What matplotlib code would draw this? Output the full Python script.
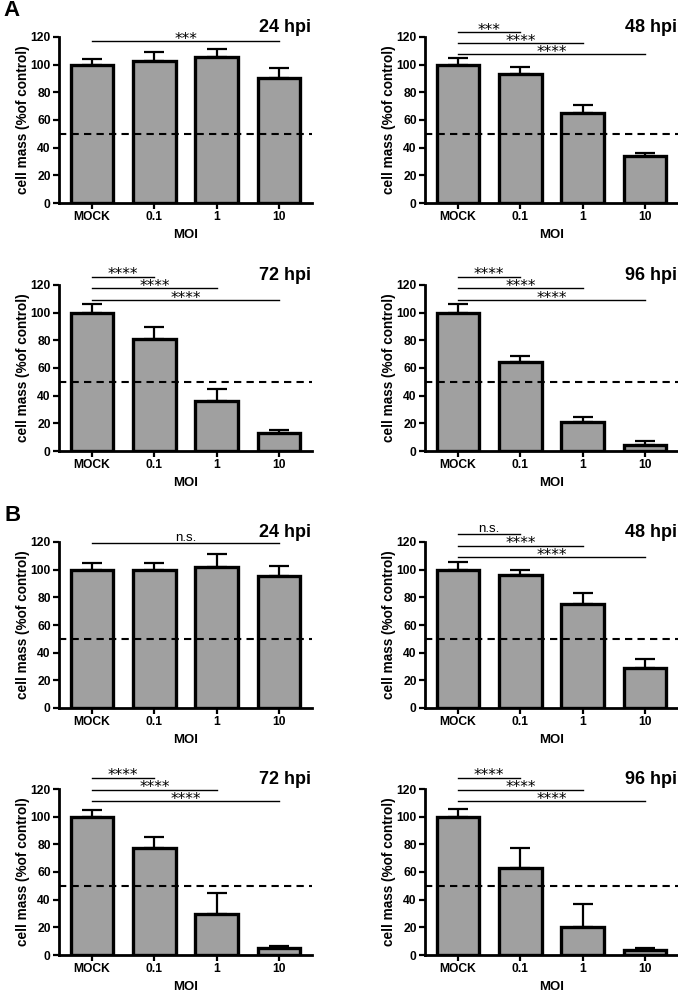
import numpy as np
import matplotlib
matplotlib.use('Agg')
import matplotlib.pyplot as plt

plt.rcParams['font.family'] = ['Liberation Sans', 'DejaVu Sans']
plt.rcParams['font.weight'] = 'bold'

# categories
moi = ['MOCK', '0.1', '1', '10']
hours = ['24 hpi', '48 hpi', '72 hpi', '96 hpi']

# panel A: means and upper error
A_mean = [[100, 103, 105.5, 90],
          [100, 93.6, 65.1, 34.1],
          [100, 80.8, 36.5, 13.3],
          [100, 64.1, 20.8, 4.6]]
A_err = [[3.9, 6.1, 5.8, 7.7],
         [4.6, 4.9, 5.5, 1.9],
         [6.2, 8.7, 8.5, 2.2],
         [6.2, 4.4, 3.9, 2.4]]

# panel B
B_mean = [[100, 99.6, 101.6, 95.3],
          [100, 95.8, 74.9, 28.6],
          [100, 77.1, 29.3, 5.3],
          [100, 63, 20.1, 3.9]]
B_err = [[4.8, 4.9, 9.4, 7.7],
         [5.6, 4.3, 8.0, 6.8],
         [4.8, 8.0, 15.8, 1.0],
         [5.8, 14.3, 16.5, 1.2]]

# significance: (target index, label, y level) -- always vs MOCK
A_sig = [[(3, '***', 116.9)],
         [(1, '***', 123.6), (2, '****', 115.6), (3, '****', 107.4)],
         [(1, '****', 126), (2, '****', 117.6), (3, '****', 109.1)],
         [(1, '****', 126), (2, '****', 117.6), (3, '****', 109.1)]]
B_sig = [[(3, 'n.s.', 119.5)],
         [(1, 'n.s.', 126), (2, '****', 117.3), (3, '****', 109)],
         [(1, '****', 128), (2, '****', 119.5), (3, '****', 111.3)],
         [(1, '****', 128), (2, '****', 119.5), (3, '****', 111.3)]]

fig = plt.figure(figsize=(6.78, 9.92), dpi=100)

W, H = 678, 992
left_x = [59, 425]
ax_w = 253
row_top = [37, 285, 542, 789]
ax_h = 166

panels = []
for g, (means, errs, sigs) in enumerate([(A_mean, A_err, A_sig), (B_mean, B_err, B_sig)]):
    for i in range(4):
        r = g * 2 + i // 2
        c = i % 2
        panels.append((r, c, hours[i], means[i], errs[i], sigs[i]))

x = np.arange(len(moi))
for r, c, title, mean, err, sig in panels:
    ax = fig.add_axes([left_x[c] / W, 1 - (row_top[r] + ax_h) / H, ax_w / W, ax_h / H])
    ax.bar(x, mean, width=0.68, color='#a0a0a0', edgecolor='black', linewidth=2.4, zorder=2)
    ax.errorbar(x, mean, yerr=[np.zeros(4), err], fmt='none', ecolor='black',
                elinewidth=1.6, capsize=7, capthick=1.6, zorder=3)
    ax.axhline(50, color='black', linestyle=(0, (3.5, 2.5)), linewidth=1.5, zorder=4)
    ax.set_xlim(-0.53, 3.53)
    ax.set_ylim(0, 120)
    ax.set_yticks([0, 20, 40, 60, 80, 100, 120])
    ax.set_xticks(x)
    ax.set_xticklabels(moi)
    ax.tick_params(labelsize=8.7, width=1.6, length=4, pad=2)
    for s in ['top', 'right']:
        ax.spines[s].set_visible(False)
    for s in ['left', 'bottom']:
        ax.spines[s].set_linewidth(2)
    ax.set_xlabel('MOI', fontsize=9.5, fontweight='bold', labelpad=4)
    ax.set_ylabel('cell mass (%of control)', fontsize=9.8, fontweight='bold', labelpad=0)
    ax.text(0.995, 1.03, title, transform=ax.transAxes, ha='right', va='baseline',
            fontsize=13, fontweight='bold')
    for j, lab, y in sig:
        ax.plot([0, j], [y, y], color='black', linewidth=1, clip_on=False)
        if lab == 'n.s.':
            ax.text(j / 2, y + 1, lab, ha='center', va='baseline', fontsize=9.5,
                    fontweight='normal', clip_on=False)
        else:
            ax.text(j / 2, y - 1.8, lab, ha='center', va='baseline', fontsize=11,
                    family='DejaVu Sans', fontweight='normal', clip_on=False)

fig.text(3 / W, 1 - 16 / H, 'A', fontsize=16, fontweight='bold', va='baseline')
fig.text(4 / W, 1 - 521 / H, 'B', fontsize=16, fontweight='bold', va='baseline')

fig.savefig('out.png', dpi=100)
